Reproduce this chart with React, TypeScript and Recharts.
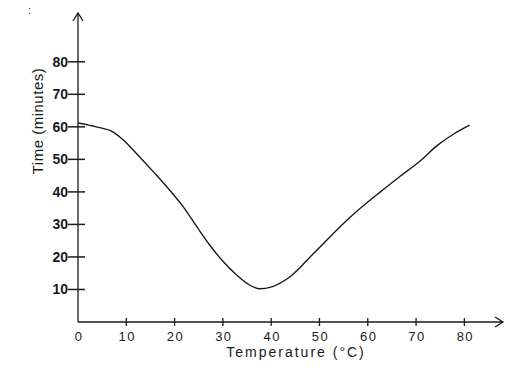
import React from 'react';
import { LineChart, Line, XAxis, YAxis, ReferenceDot, Label } from 'recharts';

const temperatures = [0, 3.8, 7.3, 9.5, 12.1, 15.9, 19.0, 21.8, 24.6, 27.3, 30.1, 32.9, 35.6, 37.7, 40.1, 43.9, 48.8, 56.4, 62.6, 66.7, 70.9, 74.4, 77.8, 81.1];
const times = [61.2, 60.0, 58.4, 55.8, 51.8, 45.7, 40.5, 35.4, 29.3, 23.6, 18.5, 14.4, 11.3, 10.2, 10.8, 13.9, 21.1, 32.3, 40.0, 44.8, 49.6, 54.3, 57.8, 60.5];
const xTicks = [0, 10, 20, 30, 40, 50, 60, 70, 80];
const yTicks = [10, 20, 30, 40, 50, 60, 70, 80];
const xMax = 88;
const yMax = 95;

const data = temperatures.map((t, i) => ({ temp: t, time: times[i] }));

const INK = '#1a1a1a';
const FONT = '"Liberation Sans", Arial, sans-serif';

const XTick = (props: any) => {
  const { x, y, payload } = props;
  return (
    <g>
      {payload.value !== 0 && (
        <line x1={x} x2={x} y1={y - 4} y2={y + 4} stroke={INK} strokeWidth={1.3} />
      )}
      <text x={x + 1} y={y + 19} textAnchor="middle" fontSize={13} letterSpacing={1.5} fill={INK} fontFamily={FONT}>
        {payload.value}
      </text>
    </g>
  );
};

const YTick = (props: any) => {
  const { x, y, payload } = props;
  return (
    <g>
      <line x1={x - 10} x2={x + 7} y1={y} y2={y} stroke={INK} strokeWidth={1.5} />
      <text x={x - 10} y={y + 5} textAnchor="end" fontSize={14} fontWeight="bold" fill={INK} fontFamily={FONT}>
        {payload.value}
      </text>
    </g>
  );
};

const ArrowUp = (props: any) => {
  const { cx, cy } = props;
  return (
    <path d={`M${cx - 5},${cy + 8} L${cx},${cy} L${cx + 5},${cy + 8}`} fill="none" stroke={INK} strokeWidth={1.3} />
  );
};

const ArrowRight = (props: any) => {
  const { cx, cy } = props;
  return (
    <path d={`M${cx - 8},${cy - 5} L${cx},${cy} L${cx - 8},${cy + 5}`} fill="none" stroke={INK} strokeWidth={1.3} />
  );
};

const YTitle = (props: any) => {
  const { viewBox } = props;
  const cx = viewBox.x + viewBox.width - 35;
  const cy = viewBox.y + 108;
  return (
    <text x={cx} y={cy} transform={`rotate(-90, ${cx}, ${cy})`} textAnchor="middle" fontSize={15} letterSpacing={0.5} fill={INK} fontFamily={FONT}>
      Time (minutes)
    </text>
  );
};

const XTitle = (props: any) => {
  const { viewBox } = props;
  const cx = viewBox.x + 218;
  const cy = viewBox.y + 35;
  return (
    <text x={cx} y={cy} textAnchor="middle" fontSize={14} letterSpacing={2} fill={INK} fontFamily={FONT}>
      Temperature (°C)
    </text>
  );
};

export default function App() {
  return (
    <div style={{ position: 'absolute', left: 0, top: 0, width: 528, height: 370, background: '#fff' }}>
      <div style={{ position: 'absolute', left: 28, top: 4, fontSize: 11, fontFamily: FONT, color: '#444' }}>:</div>
      <LineChart width={528} height={370} data={data} margin={{ top: 13, right: 25, bottom: 0, left: 0 }}>
        <XAxis
          dataKey="temp"
          type="number"
          domain={[0, xMax]}
          ticks={xTicks}
          tick={<XTick />}
          tickSize={0}
          tickMargin={0}
          tickLine={false}
          axisLine={{ stroke: INK, strokeWidth: 1.3 }}
          height={48}
          allowDataOverflow
        >
          <Label content={<XTitle />} />
        </XAxis>
        <YAxis
          type="number"
          domain={[0, yMax]}
          ticks={yTicks}
          tick={<YTick />}
          tickSize={0}
          tickMargin={0}
          tickLine={false}
          axisLine={{ stroke: INK, strokeWidth: 1.3 }}
          width={78}
          allowDataOverflow
        >
          <Label content={<YTitle />} />
        </YAxis>
        <Line
          type="monotone"
          dataKey="time"
          stroke={INK}
          strokeWidth={1.4}
          dot={false}
          isAnimationActive={false}
        />
        <ReferenceDot x={0} y={yMax} shape={<ArrowUp />} ifOverflow="visible" />
        <ReferenceDot x={xMax} y={0} shape={<ArrowRight />} ifOverflow="visible" />
      </LineChart>
    </div>
  );
}
